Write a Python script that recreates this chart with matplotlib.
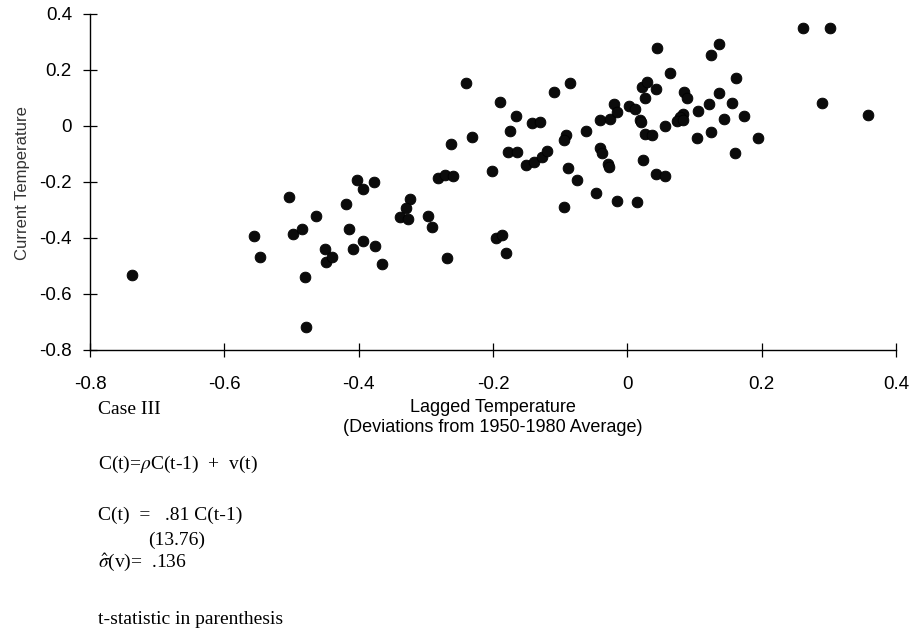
import matplotlib
matplotlib.use("Agg")
import matplotlib.pyplot as plt

# lagged vs current temperature anomalies (deg C, deviations from 1950-1980 mean)
lagged = [-0.737, -0.556, -0.547, -0.503, -0.498, -0.484, -0.480, -0.478, -0.463, -0.450,
          -0.448, -0.439, -0.419, -0.415, -0.409, -0.402, -0.394, -0.377, -0.394, -0.376,
          -0.366, -0.324, -0.330, -0.338, -0.327, -0.297, -0.291, -0.268, -0.282, -0.271,
          -0.260, -0.263, -0.240, -0.231, -0.201, -0.196, -0.187, -0.181, -0.190, -0.174,
          -0.166, -0.178, -0.165, -0.151, -0.139, -0.127, -0.120, -0.142, -0.130, -0.109,
          -0.085, -0.091, -0.094, -0.088, -0.075, -0.094, -0.047, -0.061, -0.041, -0.026,
          -0.020, -0.016, 0.003, 0.012, -0.040, -0.038, -0.029, -0.027, -0.016, 0.015,
          0.024, 0.042, 0.056, 0.027, 0.037, 0.056, 0.019, 0.020, 0.027, 0.022,
          0.029, 0.042, 0.044, 0.063, 0.085, 0.089, 0.083, 0.078, 0.074, 0.083,
          0.105, 0.104, 0.122, 0.124, 0.124, 0.137, 0.137, 0.144, 0.156, 0.162,
          0.160, 0.174, 0.194, 0.261, 0.302, 0.290, 0.358]
current = [-0.532, -0.394, -0.468, -0.255, -0.385, -0.369, -0.539, -0.717, -0.320, -0.438,
           -0.484, -0.469, -0.278, -0.368, -0.440, -0.192, -0.226, -0.199, -0.410, -0.430,
           -0.493, -0.260, -0.294, -0.324, -0.333, -0.320, -0.360, -0.473, -0.186, -0.175,
           -0.180, -0.063, 0.154, -0.039, -0.161, -0.401, -0.388, -0.455, 0.087, -0.019,
           0.036, -0.093, -0.093, -0.141, -0.129, -0.112, -0.088, 0.010, 0.015, 0.121,
           0.155, -0.032, -0.051, -0.150, -0.193, -0.289, -0.239, -0.018, 0.020, 0.025,
           0.077, 0.051, 0.070, 0.059, -0.077, -0.098, -0.134, -0.146, -0.269, -0.270,
           -0.123, -0.170, -0.178, -0.029, -0.031, -0.001, 0.021, 0.013, 0.099, 0.140,
           0.157, 0.132, 0.280, 0.188, 0.120, 0.100, 0.042, 0.033, 0.018, 0.023,
           0.052, -0.044, 0.078, -0.023, 0.253, 0.294, 0.118, 0.024, 0.082, 0.170,
           -0.098, 0.035, -0.044, 0.349, 0.349, 0.082, 0.040]

ticks = [-0.8, -0.6, -0.4, -0.2, 0, 0.2, 0.4]
tick_labels = ["-0.8", "-0.6", "-0.4", "-0.2", "0", "0.2", "0.4"]

plt.rcParams["font.family"] = ["Liberation Sans", "DejaVu Sans"]
plt.rcParams["mathtext.fontset"] = "stix"

W, H = 913, 634
fig = plt.figure(figsize=(W / 100, H / 100), dpi=100)
ax = fig.add_axes([90 / W, 1 - 350 / H, 806 / W, 336 / H])

ax.scatter(lagged, current, s=60, c="#0b0b0b", edgecolors="black", linewidths=0.6,
           clip_on=False, zorder=3)

ax.set_xlim(-0.8, 0.4)
ax.set_ylim(-0.8, 0.4)
ax.set_xticks(ticks)
ax.set_xticklabels(tick_labels)
ax.set_yticks(ticks)
ax.set_yticklabels(tick_labels)
ax.tick_params(direction="inout", length=10, width=0.9, labelsize=13.5, colors="black")
ax.tick_params(axis="x", pad=14)
ax.tick_params(axis="y", pad=8)
for side in ("top", "right"):
    ax.spines[side].set_visible(False)
for side in ("left", "bottom"):
    ax.spines[side].set_linewidth(1.0)

ax.set_xlabel("Lagged Temperature\n(Deviations from 1950-1980 Average)",
              fontsize=13, labelpad=4, linespacing=1.25)

fig.text(22 / W, 1 - 183 / H, "Current Temperature", rotation=90, ha="center", va="center",
         fontsize=12, color="#333333")

# model summary beneath the plot
serif = ["Liberation Serif", "DejaVu Serif"]
fs = 14
x0 = 98 / W
fig.text(x0, 1 - 409 / H, "Case III", family=serif, fontsize=fs, va="center")
fig.text(x0, 1 - 464 / H, r"C(t)=$\rho$C(t-1)  +  v(t)", family=serif, fontsize=fs, va="center")
fig.text(x0, 1 - 515 / H, "C(t)  =   .81 C(t-1)", family=serif, fontsize=fs, va="center")
fig.text(148 / W, 1 - 540 / H, "(13.76)", family=serif, fontsize=fs, va="center")
fig.text(x0, 1 - 563 / H, r"$\hat{\sigma}$(v)=  .136", family=serif, fontsize=fs, va="center")
fig.text(x0, 1 - 619 / H, "t-statistic in parenthesis", family=serif, fontsize=fs, va="center")

fig.savefig("out.png", dpi=100)
